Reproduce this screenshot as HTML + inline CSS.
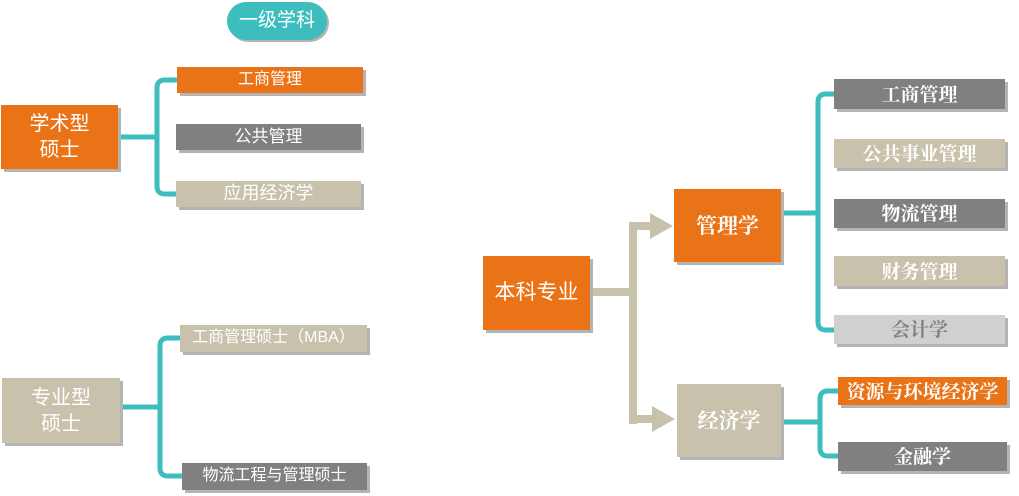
<!DOCTYPE html>
<html><head><meta charset="utf-8"><style>
body{margin:0;width:1019px;height:496px;background:#fff;position:relative;overflow:hidden;font-family:"Liberation Sans","Noto Sans CJK SC",sans-serif;}
.b{position:absolute;display:flex;align-items:center;justify-content:center;color:#fff;box-shadow:3px 3px 0 #b4b4b4;text-align:center;line-height:1.3;}
.o{background:#E97316;}.g{background:#808080;}.k{background:#C8C1AC;}.l{background:#D0D0D0;color:#808080;}
.s{font-family:"Noto Serif CJK SC","Liberation Serif",serif;font-weight:bold;}
svg{position:absolute;left:0;top:0;}
</style></head><body>
<svg width="1019" height="496">
<g fill="none" stroke="#3DBDBE" stroke-width="5" stroke-linejoin="round">
<path d="M118 137 H155 M177 80 H165 Q157 80 157 88 V186 Q157 194 165 194 H177"/>
<path d="M120 407 H158 M180 338 H168 Q160 338 160 346 V468 Q160 476 168 476 H182"/>
<path d="M781 213 H818 M834 94 H826 Q818 94 818 102 V322 Q818 330 826 330 H834"/>
<path d="M781 422 H820 M838 391 H828 Q820 391 820 399 V448 Q820 456 828 456 H838"/>
</g>
<g fill="#C8C1AC">
<rect x="590" y="288" width="43" height="8"/>
<rect x="629" y="222" width="8" height="202"/>
<rect x="629" y="222" width="22" height="8"/>
<rect x="629" y="415" width="24" height="8"/>
<polygon points="650,213 673,226 650,239"/>
<polygon points="652,406 675,419 652,432"/>
</g>
</svg>
<div class="b" style="left:227px;top:2px;width:100px;height:38px;border-radius:19px;background:#3DBDBE;font-size:19px;box-shadow:2px 2px 0 #b4b4b4">一级学科</div>
<div class="b o" style="left:1px;top:105px;width:117px;height:64px;font-size:20px">学术型<br>硕士</div>
<div class="b o" style="left:177px;top:67px;width:186px;height:26px;font-size:16px">工商管理</div>
<div class="b g" style="left:176px;top:124px;width:185px;height:26px;font-size:17px">公共管理</div>
<div class="b k" style="left:176px;top:181px;width:185px;height:26px;font-size:18px">应用经济学</div>
<div class="b k" style="left:2px;top:378px;width:118px;height:65px;font-size:20px">专业型<br>硕士</div>
<div class="b k" style="left:180px;top:325px;width:187px;height:27px;font-size:16px">工商管理硕士（MBA）</div>
<div class="b g" style="left:182px;top:463px;width:185px;height:27px;font-size:16px">物流工程与管理硕士</div>
<div class="b o" style="left:483px;top:256px;width:107px;height:74px;font-size:21px">本科专业</div>
<div class="b o s" style="left:674px;top:189px;width:107px;height:73px;font-size:21px">管理学</div>
<div class="b k s" style="left:677px;top:384px;width:104px;height:73px;font-size:21px">经济学</div>
<div class="b g s" style="left:834px;top:79px;width:171px;height:30px;font-size:19px">工商管理</div>
<div class="b k s" style="left:834px;top:139px;width:171px;height:29px;font-size:19px">公共事业管理</div>
<div class="b g s" style="left:834px;top:199px;width:171px;height:29px;font-size:19px">物流管理</div>
<div class="b k s" style="left:834px;top:256px;width:171px;height:30px;font-size:19px">财务管理</div>
<div class="b l s" style="left:834px;top:315px;width:171px;height:29px;font-size:19px">会计学</div>
<div class="b o s" style="left:838px;top:377px;width:169px;height:28px;font-size:19px">资源与环境经济学</div>
<div class="b g s" style="left:838px;top:442px;width:169px;height:29px;font-size:19px">金融学</div>
</body></html>
